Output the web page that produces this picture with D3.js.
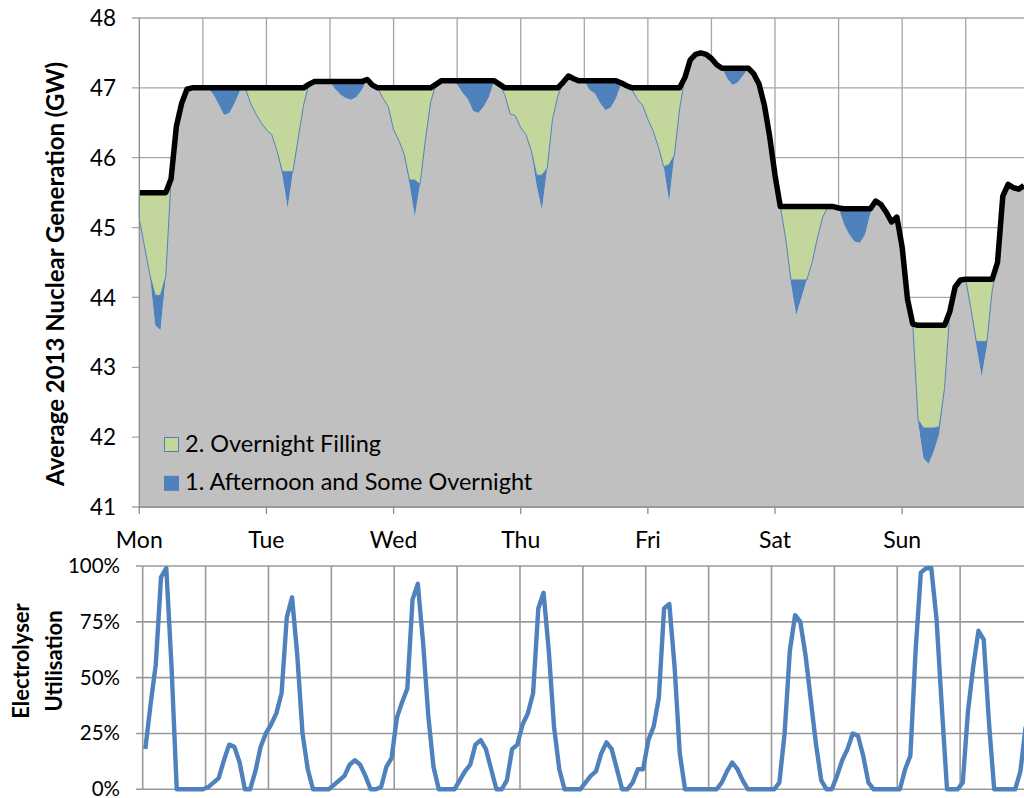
<!DOCTYPE html>
<html><head><meta charset="utf-8">
<script src="https://cdn.jsdelivr.net/npm/d3@7"></script>
<style>body{margin:0;background:#fff;overflow:hidden}text{font-family:Lato,"Open Sans",sans-serif;fill:#000}</style>
</head><body><svg id="c" width="1024" height="798"></svg>
<script>
// ---------- data (hourly, Mon 00:00 .. Sun 23:00) ----------
const dayLabels = ["Mon","Tue","Wed","Thu","Fri","Sat","Sun"];
const genTicks = [41,42,43,44,45,46,47,48];
const utilTicks = [0,25,50,75,100];
const legendLabels = ["2. Overnight Filling","1. Afternoon and Some Overnight"];

// black line: nuclear generation (GW)
const nuclear = [
45.5,45.5,45.5,45.5,45.5,45.5,45.7,46.45,46.78,46.98,47.0,47.0,
47.0,47.0,47.0,47.0,47.0,47.0,47.0,47.0,47.0,47.0,47.0,47.0,
47.0,47.0,47.0,47.0,47.0,47.0,47.0,47.0,47.05,47.09,47.09,47.09,
47.09,47.09,47.09,47.09,47.09,47.09,47.09,47.12,47.04,47.0,47.0,47.0,
47.0,47.0,47.0,47.0,47.0,47.0,47.0,47.0,47.05,47.1,47.1,47.1,
47.1,47.1,47.1,47.1,47.1,47.1,47.1,47.1,47.05,47.0,47.0,47.0,
47.0,47.0,47.0,47.0,47.0,47.0,47.0,47.0,47.08,47.17,47.13,47.1,
47.1,47.1,47.1,47.1,47.1,47.1,47.1,47.07,47.03,47.0,47.0,47.0,
47.0,47.0,47.0,47.0,47.0,47.0,47.0,47.15,47.4,47.48,47.5,47.48,
47.42,47.33,47.28,47.28,47.28,47.28,47.28,47.28,47.2,47.05,46.75,46.3,
45.75,45.3,45.3,45.3,45.3,45.3,45.3,45.3,45.3,45.3,45.3,45.3,
45.28,45.27,45.27,45.27,45.27,45.27,45.27,45.38,45.33,45.22,45.08,45.15,
44.72,43.98,43.62,43.6,43.6,43.6,43.6,43.6,43.6,43.8,44.15,44.25,
44.26,44.26,44.26,44.26,44.26,44.26,44.5,45.45,45.62,45.57,45.55,45.6];

// grey area: generation left after electrolysis (GW)
const baseGen = [
45.13,44.72,44.32,43.6,43.53,44.3,45.7,46.45,46.78,46.98,47.0,47.0,
47.0,47.0,46.9,46.76,46.61,46.64,46.78,46.96,47.0,46.78,46.63,46.5,
46.4,46.33,46.1,45.75,45.28,45.8,46.28,46.75,47.05,47.09,47.09,47.09,
47.09,46.98,46.9,46.85,46.83,46.87,46.97,47.12,47.04,47.0,46.85,46.73,
46.4,46.25,46.05,45.62,45.16,45.62,46.25,46.8,47.05,47.1,47.1,47.1,
47.05,46.93,46.84,46.67,46.64,46.73,46.87,47.1,47.05,46.9,46.63,46.6,
46.43,46.33,46.1,45.6,45.25,45.85,46.55,46.88,47.08,47.17,47.13,47.1,
47.1,46.97,46.92,46.78,46.68,46.72,46.85,47.07,47.03,46.97,46.84,46.75,
46.55,46.38,46.15,45.87,45.37,46.03,46.7,47.15,47.4,47.48,47.5,47.48,
47.42,47.33,47.28,47.13,47.04,47.08,47.18,47.28,47.2,47.05,46.75,46.3,
45.75,45.3,44.85,44.2,43.75,44.0,44.25,44.5,44.85,45.15,45.3,45.3,
45.28,45.05,44.9,44.8,44.78,44.9,45.2,45.38,45.33,45.22,45.08,45.15,
44.72,43.98,43.62,42.22,41.7,41.62,41.8,42.05,42.7,43.8,44.15,44.25,
44.26,43.83,43.3,42.87,43.3,44.1,44.5,45.45,45.62,45.57,45.55,45.6];

// blue: "1. Afternoon and Some Overnight" (GW)
const afternoon = [
0,0,0,0.43,0.5,0,0,0,0,0,0,0,
0,0,0.1,0.24,0.39,0.36,0.22,0.04,0,0,0,0,
0,0,0,0.05,0.52,0,0,0,0,0,0,0,
0,0.11,0.19,0.24,0.26,0.22,0.12,0,0,0,0,0,
0,0,0,0.06,0.52,0,0,0,0,0,0,0,
0.05,0.17,0.26,0.43,0.46,0.37,0.23,0,0,0,0,0,
0,0,0,0.15,0.5,0,0,0,0,0,0,0,
0,0.13,0.18,0.32,0.42,0.38,0.25,0,0,0,0,0,
0,0,0,0,0.53,0,0,0,0,0,0,0,
0,0,0,0.15,0.24,0.2,0.1,0,0,0,0,0,
0,0,0,0.05,0.5,0.25,0,0,0,0,0,0,
0,0.22,0.37,0.47,0.49,0.37,0.07,0,0,0,0,0,
0,0,0,0.03,0.43,0.51,0.33,0.1,0,0,0,0,
0,0,0.07,0.5,0.07,0,0,0,0,0,0,0];

// green: "2. Overnight Filling" (GW)
const overnight = [
0.37,0.78,1.18,1.47,1.47,1.2,0,0,0,0,0,0,
0,0,0,0,0,0,0,0,0,0.22,0.37,0.5,
0.6,0.67,0.9,1.2,1.2,1.2,0.72,0.25,0,0,0,0,
0,0,0,0,0,0,0,0,0,0,0.15,0.27,
0.6,0.75,0.95,1.32,1.32,1.38,0.75,0.2,0,0,0,0,
0,0,0,0,0,0,0,0,0,0.1,0.37,0.4,
0.57,0.67,0.9,1.25,1.25,1.15,0.45,0.12,0,0,0,0,
0,0,0,0,0,0,0,0,0,0.03,0.16,0.25,
0.45,0.62,0.85,1.13,1.1,0.97,0.3,0,0,0,0,0,
0,0,0,0,0,0,0,0,0,0,0,0,
0,0,0.45,1.05,1.05,1.05,1.05,0.8,0.45,0.15,0,0,
0,0,0,0,0,0,0,0,0,0,0,0,
0,0,0,1.35,1.47,1.47,1.47,1.45,0.9,0,0,0,
0,0.43,0.89,0.89,0.89,0.16,0,0,0,0,0,0];

// electrolyser utilisation (%), last value lies beyond the cropped edge
const utilisation = [
18,38,56,95,99,55,0,0,0,0,0,0,
1,3,5,13,20,19,12,0,0,8,19,25,
29,34,43,77,86,60,25,9,0,0,0,0,
2,4,6,11,13,11,6,0,0,1,10,14,
32,39,45,85,92,66,33,10,0,0,0,0,
4,8,11,20,22,18,9,0,0,4,18,20,
29,34,43,81,88,62,28,9,0,0,0,0,
3,6,8,16,21,18,9,0,0,3,9,9,
22,28,41,81,83,55,16,0,0,0,0,0,
0,0,3,8,12,9,4,0,0,0,0,0,
0,3,25,62,78,75,60,40,20,4,0,0,
6,13,18,25,24,15,3,0,0,0,0,0,
0,9,15,62,97,99,99,76,37,0,0,0,
3,35,55,71,67,30,0,0,0,0,0,8,
28];

// ---------- layout ----------
const svg = d3.select("#c");
const GRID = "#a6a6a6", AXIS = "#8c8c8c";
const BLUE = "#4f81bd", GREEN = "#c3d69b", GREY = "#c0c0c0";

// top chart
const x = d3.scaleLinear().domain([0,167]).range([139.3,1024]);
const y = d3.scaleLinear().domain([41,48]).range([507,18]);
const rows = nuclear.map((d,i)=>({i, base:baseGen[i], afternoon:afternoon[i], overnight:overnight[i]}));
const stack = d3.stack().keys(["base","afternoon","overnight"])(rows);

const gTop = svg.append("g");
gTop.selectAll(".hg").data(genTicks).join("line")
  .attr("x1",132).attr("x2",1024).attr("y1",d=>y(d)).attr("y2",d=>y(d))
  .attr("stroke",GRID).attr("stroke-width",1.3);
gTop.selectAll(".vg").data(d3.range(12,168,12)).join("line")
  .attr("x1",d=>x(d)).attr("x2",d=>x(d)).attr("y1",y(48)).attr("y2",y(41))
  .attr("stroke",GRID).attr("stroke-width",1.3);

const area = d3.area().x(d=>x(d.data.i)).y0(d=>y(Math.max(d[0],41))).y1(d=>y(d[1]));
const fills = {base:GREY, afternoon:BLUE, overnight:GREEN};
stack.forEach(s=>{
  gTop.append("path").datum(s).attr("d",area)
    .attr("fill",fills[s.key])
    .attr("stroke", s.key==="overnight"?BLUE:"none")
    .attr("stroke-width", s.key==="overnight"?1:0);
});
gTop.append("path").datum(nuclear)
  .attr("d", d3.line().x((d,i)=>x(i)).y(d=>y(d)))
  .attr("fill","none").attr("stroke","#000").attr("stroke-width",5.5)
  .attr("stroke-linejoin","round");

gTop.append("line").attr("x1",x(0)).attr("x2",x(0)).attr("y1",y(48)).attr("y2",y(41)).attr("stroke",AXIS).attr("stroke-width",1.3);
gTop.append("line").attr("x1",x(0)).attr("x2",1024).attr("y1",y(41)).attr("y2",y(41)).attr("stroke",AXIS).attr("stroke-width",1.3);
gTop.selectAll(".xt").data(d3.range(0,168,24)).join("line")
  .attr("x1",d=>x(d)).attr("x2",d=>x(d)).attr("y1",y(41)).attr("y2",y(41)+7)
  .attr("stroke",AXIS).attr("stroke-width",1.3);
gTop.selectAll(".yl").data(genTicks).join("text")
  .attr("x",116).attr("y",d=>y(d)).attr("dy","0.36em").attr("text-anchor","end")
  .attr("font-size",22.5).text(d=>d);
gTop.selectAll(".xl").data(dayLabels).join("text")
  .attr("x",(d,i)=>x(i*24)).attr("y",548).attr("text-anchor","middle")
  .attr("font-size",23).text(d=>d);
gTop.append("text").attr("transform","translate(64,274) rotate(-90)")
  .attr("text-anchor","middle").attr("font-size",24).attr("font-weight","bold")
  .text("Average 2013 Nuclear Generation (GW)");

const leg = gTop.append("g");
[[GREEN,BLUE],[BLUE,BLUE]].forEach((c,k)=>{
  leg.append("rect").attr("x",164.5).attr("y",437.5+k*38.8).attr("width",14).attr("height",14)
    .attr("fill",c[0]).attr("stroke",c[1]).attr("stroke-width",1);
  leg.append("text").attr("x",185).attr("y",451.5+k*38.8).attr("font-size",23.5).text(legendLabels[k]);
});

// bottom chart
const xb = d3.scaleBand().domain(d3.range(169)).range([142.7,142.7+169*5.24]);
const yb = d3.scaleLinear().domain([0,100]).range([789.3,566]);
const gBot = svg.append("g");
gBot.selectAll(".bhg").data(utilTicks).join("line")
  .attr("x1",136).attr("x2",1024).attr("y1",d=>yb(d)).attr("y2",d=>yb(d))
  .attr("stroke","#9a9a9a").attr("stroke-width",1.6);
gBot.selectAll(".bvg").data(d3.range(12,168,12)).join("line")
  .attr("x1",d=>xb(d)).attr("x2",d=>xb(d)).attr("y1",yb(100)).attr("y2",yb(0))
  .attr("stroke","#9a9a9a").attr("stroke-width",1.6);
gBot.append("line").attr("x1",xb(0)).attr("x2",xb(0)).attr("y1",yb(100)).attr("y2",yb(0)).attr("stroke","#9a9a9a").attr("stroke-width",1.6);
gBot.append("path").datum(utilisation)
  .attr("d", d3.line().x((d,i)=>xb(i)+xb.bandwidth()/2).y(d=>yb(d)))
  .attr("fill","none").attr("stroke",BLUE).attr("stroke-width",4.4)
  .attr("stroke-linejoin","round").attr("stroke-linecap","butt");
gBot.selectAll(".byl").data(utilTicks).join("text")
  .attr("x",120).attr("y",d=>yb(d)).attr("dy","0.34em").attr("text-anchor","end")
  .attr("font-size",20.5).text(d=>d+"%");
gBot.append("text").attr("transform","translate(29,661) rotate(-90)")
  .attr("text-anchor","middle").attr("font-size",22).attr("font-weight","bold").text("Electrolyser");
gBot.append("text").attr("transform","translate(62,661) rotate(-90)")
  .attr("text-anchor","middle").attr("font-size",22).attr("font-weight","bold").text("Utilisation");
</script></body></html>
